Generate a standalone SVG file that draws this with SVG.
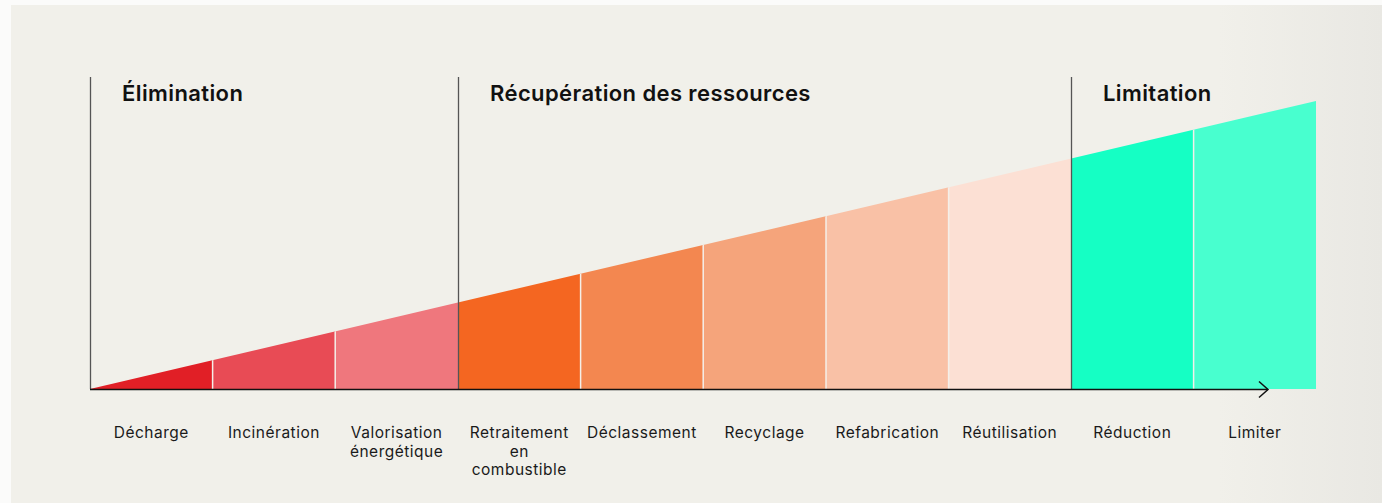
<svg xmlns="http://www.w3.org/2000/svg" width="1382" height="503" viewBox="0 0 1382 503">
  <defs>
    <linearGradient id="cardFill" x1="0" y1="0" x2="1" y2="0">
      <stop offset="0" stop-color="#f1f0ea"/>
      <stop offset="0.88" stop-color="#f1f0ea"/>
      <stop offset="1" stop-color="#e9e8e3"/>
    </linearGradient>
    <clipPath id="wedge">
      <polygon points="90,389 1316,101 1316,389"/>
    </clipPath>
    <style>
      .title { font-family: Inter, "Liberation Sans", sans-serif; font-weight: 600; font-size: 22px; letter-spacing: 0.4px; fill: #111111; }
      .label { font-family: Inter, "Liberation Sans", sans-serif; font-size: 15.5px; letter-spacing: 0.5px; fill: #1a1a1a; text-anchor: middle; }
      .sep { stroke: #f4efe9; stroke-width: 1.5; }
      .divider { stroke: #555555; stroke-width: 1.3; fill: none; }
      .axis { stroke: #111111; stroke-width: 1.5; fill: none; }
    </style>
  </defs>

  <!-- page and card -->
  <rect x="0" y="0" width="1382" height="503" fill="#fbfbfa"/>
  <rect x="11" y="5" width="1371" height="498" fill="url(#cardFill)"/>

  <!-- stepped wedge, one band per waste treatment -->
  <g id="bars" clip-path="url(#wedge)">
    <g id="bar-decharge"><rect x="90" y="90" width="122.6" height="299" fill="#e11f26"/></g>
    <g id="bar-incineration"><rect x="212.6" y="90" width="122.6" height="299" fill="#e84b55"/></g>
    <g id="bar-valorisation"><rect x="335.2" y="90" width="122.8" height="299" fill="#ef777d"/></g>
    <g id="bar-retraitement"><rect x="458" y="90" width="122.6" height="299" fill="#f46621"/></g>
    <g id="bar-declassement"><rect x="580.6" y="90" width="122.6" height="299" fill="#f38750"/></g>
    <g id="bar-recyclage"><rect x="703.2" y="90" width="122.8" height="299" fill="#f5a47b"/></g>
    <g id="bar-refabrication"><rect x="826" y="90" width="122.6" height="299" fill="#f9c1a6"/></g>
    <g id="bar-reutilisation"><rect x="948.6" y="90" width="122.4" height="299" fill="#fce0d4"/></g>
    <g id="bar-reduction"><rect x="1071" y="90" width="122.6" height="299" fill="#15ffc4"/></g>
    <g id="bar-limiter"><rect x="1193.6" y="90" width="122.4" height="299" fill="#48ffcf"/></g>
    <!-- thin light separators -->
    <line class="sep" x1="212.6" y1="90" x2="212.6" y2="389"/>
    <line class="sep" x1="335.2" y1="90" x2="335.2" y2="389"/>
    <line class="sep" x1="580.6" y1="90" x2="580.6" y2="389"/>
    <line class="sep" x1="703.2" y1="90" x2="703.2" y2="389"/>
    <line class="sep" x1="826" y1="90" x2="826" y2="389"/>
    <line class="sep" x1="948.6" y1="90" x2="948.6" y2="389"/>
    <line class="sep" x1="1193.6" y1="90" x2="1193.6" y2="389"/>
  </g>

  <!-- section dividers and axis -->
  <g id="connectors">
    <line class="divider" x1="90.5" y1="77" x2="90.5" y2="389"/>
    <line class="divider" x1="458.5" y1="77" x2="458.5" y2="389"/>
    <line class="divider" x1="1071.5" y1="77" x2="1071.5" y2="389"/>
    <line class="axis" x1="90" y1="389.5" x2="1268" y2="389.5"/>
    <polyline class="axis" points="1259,381.5 1268,389.5 1259,397.5" stroke-width="1.2"/>
  </g>

  <!-- section titles -->
  <g id="section-elimination"><text class="title" x="122" y="101">Élimination</text></g>
  <g id="section-recuperation"><text class="title" x="490" y="101">Récupération des ressources</text></g>
  <g id="section-limitation"><text class="title" x="1103" y="101">Limitation</text></g>

  <!-- band labels -->
  <g id="labels">
    <text class="label" x="151.3" y="438">Décharge</text>
    <text class="label" x="273.9" y="438">Incinération</text>
    <text class="label" x="396.6" y="438">Valorisation<tspan x="396.6" dy="18.5">énergétique</tspan></text>
    <text class="label" x="519.3" y="438">Retraitement<tspan x="519.3" dy="18.5">en</tspan><tspan x="519.3" dy="18.5">combustible</tspan></text>
    <text class="label" x="641.9" y="438">Déclassement</text>
    <text class="label" x="764.6" y="438">Recyclage</text>
    <text class="label" x="887.3" y="438">Refabrication</text>
    <text class="label" x="1009.8" y="438">Réutilisation</text>
    <text class="label" x="1132.3" y="438">Réduction</text>
    <text class="label" x="1254.8" y="438">Limiter</text>
  </g>
</svg>
